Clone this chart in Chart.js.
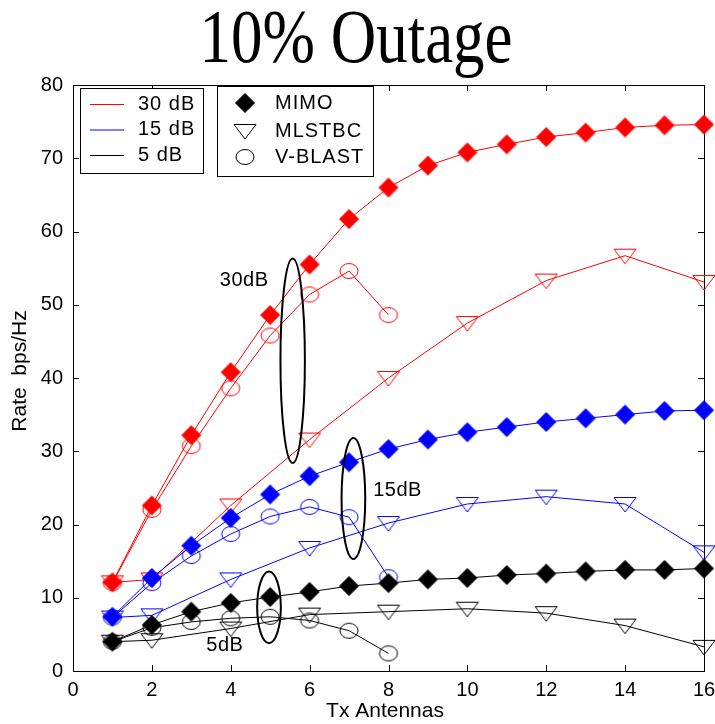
<!DOCTYPE html>
<html>
<head>
<meta charset="utf-8">
<script src="https://cdn.jsdelivr.net/npm/chart.js@4/dist/chart.umd.min.js"></script>
<style>
  html, body { margin: 0; padding: 0; background: #fff; }
  #wrap { width: 715px; height: 724px; }
</style>
</head>
<body>
<div id="wrap"><canvas id="chart" width="715" height="724"></canvas></div>
<script>
// Antenna counts used by each scheme
const mimoX = [1, 2, 3, 4, 5, 6, 7, 8, 9, 10, 11, 12, 13, 14, 15, 16];
const stbcX = [1, 2, 4, 6, 8, 10, 12, 14, 16];
const vblastX = [1, 2, 3, 4, 5, 6, 7, 8];

// 30 dB
const mimo30 = [12.1, 22.6, 32.2, 40.8, 48.6, 55.5, 61.7, 66, 69, 70.8, 71.9, 72.9, 73.5, 74.2, 74.5, 74.6];
const stbc30 = [12.1, 12.5, 22.6, 31.6, 40, 47.5, 53.3, 56.7, 53.1];
const vblast30 = [12, 22, 30.7, 38.6, 45.8, 51.4, 54.6, 48.6];
// 15 dB
const mimo15 = [7.4, 12.7, 17.1, 20.9, 24.1, 26.6, 28.5, 30.3, 31.6, 32.6, 33.3, 34, 34.5, 35, 35.5, 35.6];
const stbc15 = [7.3, 7.6, 12.5, 16.8, 20.2, 22.8, 23.8, 22.8, 16.2];
const vblast15 = [7.3, 12, 15.7, 18.7, 21.1, 22.4, 21, 12.8];
// 5 dB
const mimo5 = [4, 6.3, 8.1, 9.3, 10.1, 10.8, 11.6, 12, 12.5, 12.7, 13.1, 13.3, 13.6, 13.8, 13.8, 14];
const stbc5 = [4, 4.2, 5.8, 7.7, 8.1, 8.5, 7.9, 6.2, 3.3];
const vblast5 = [4, 5.9, 6.7, 7.2, 7.4, 6.9, 5.5, 2.4];

const xTicks = [0, 2, 4, 6, 8, 10, 12, 14, 16];
const yTicks = [0, 10, 20, 30, 40, 50, 60, 70, 80];

// ellipse annotations grouping the schemes at each SNR
const ringLabels = ['30dB', '15dB', '5dB'];
const ringX = [5.57, 7.11, 4.97];
const ringY = [42.35, 23.55, 8.7];
const ringRx = [0.31, 0.3, 0.3];
const ringRy = [13.95, 8.25, 4.9];
const ringTextX = [4.34, 8.23, 3.85];
const ringTextY = [53.3, 24.7, 3.5];

const snrNames = ['30 dB', '15 dB', '5 dB'];
const schemeNames = ['MIMO', 'MLSTBC', 'V-BLAST'];
const colors = ['#ff0000', '#0000ff', '#000000'];

const FONT = 'Arial, "Liberation Sans", sans-serif';

// marker images (the original's markers are a bit wider than tall)
function drawMarker(ctx, kind, color, cx, cy) {
    ctx.save();
    ctx.strokeStyle = color;
    ctx.fillStyle = color;
    ctx.lineWidth = 1;
    ctx.beginPath();
    if (kind === 'diamond') {
        ctx.moveTo(cx, cy - 9.5);
        ctx.lineTo(cx + 9.5, cy);
        ctx.lineTo(cx, cy + 9.5);
        ctx.lineTo(cx - 9.5, cy);
        ctx.closePath();
        ctx.fill();
        ctx.stroke();
    } else if (kind === 'tri') {
        ctx.moveTo(cx - 11, cy - 6.5);
        ctx.lineTo(cx + 11, cy - 6.5);
        ctx.lineTo(cx, cy + 8);
        ctx.closePath();
        ctx.stroke();
    } else {
        ctx.ellipse(cx, cy, 9, 7.5, 0, 0, Math.PI * 2);
        ctx.stroke();
    }
    ctx.restore();
}

function markerImage(kind, color) {
    const c = document.createElement('canvas');
    c.width = 26;
    c.height = 26;
    drawMarker(c.getContext('2d'), kind, color, 13, 13);
    return c;
}

function pts(xs, ys) {
    return xs.map((x, i) => ({ x: x, y: ys[i] }));
}

function series(label, xs, ys, kind, color) {
    return {
        label: label,
        data: pts(xs, ys),
        borderColor: color,
        backgroundColor: color,
        borderWidth: 1,
        tension: 0,
        clip: false,
        pointStyle: markerImage(kind, color),
        pointRadius: 10,
        pointHoverRadius: 10
    };
}

const datasets = [
    series('V-BLAST 5 dB', vblastX, vblast5, 'circle', colors[2]),
    series('MLSTBC 5 dB', stbcX, stbc5, 'tri', colors[2]),
    series('MIMO 5 dB', mimoX, mimo5, 'diamond', colors[2]),
    series('V-BLAST 15 dB', vblastX, vblast15, 'circle', colors[1]),
    series('MLSTBC 15 dB', stbcX, stbc15, 'tri', colors[1]),
    series('MIMO 15 dB', mimoX, mimo15, 'diamond', colors[1]),
    series('V-BLAST 30 dB', vblastX, vblast30, 'circle', colors[0]),
    series('MLSTBC 30 dB', stbcX, stbc30, 'tri', colors[0]),
    series('MIMO 30 dB', mimoX, mimo30, 'diamond', colors[0])
];

// frame, inward ticks, title, axis titles, ellipses and the two legend boxes
const decorations = {
    id: 'decorations',
    beforeDatasetsDraw(chart) {
        const ctx = chart.ctx;
        const a = chart.chartArea;
        const xs = chart.scales.x;
        const ys = chart.scales.y;

        ctx.save();
        ctx.strokeStyle = '#000';
        ctx.lineWidth = 1;
        ctx.strokeRect(Math.round(a.left) + 0.5, Math.round(a.top) + 0.5,
            Math.round(a.right - a.left), Math.round(a.bottom - a.top));

        ctx.beginPath();
        xTicks.forEach(v => {
            const px = Math.round(xs.getPixelForValue(v)) + 0.5;
            ctx.moveTo(px, a.bottom); ctx.lineTo(px, a.bottom - 6);
            ctx.moveTo(px, a.top); ctx.lineTo(px, a.top + 6);
        });
        yTicks.forEach(v => {
            const py = Math.round(ys.getPixelForValue(v)) + 0.5;
            ctx.moveTo(a.left, py); ctx.lineTo(a.left + 6, py);
            ctx.moveTo(a.right, py); ctx.lineTo(a.right - 6, py);
        });
        ctx.stroke();
        ctx.restore();
    },
    afterDatasetsDraw(chart) {
        const ctx = chart.ctx;
        const a = chart.chartArea;
        const xs = chart.scales.x;
        const ys = chart.scales.y;

        ctx.save();
        ctx.strokeStyle = '#000';

        // ellipses
        ctx.lineWidth = 2;
        ringX.forEach((cx, i) => {
            const px = xs.getPixelForValue(cx);
            const py = ys.getPixelForValue(ringY[i]);
            const rx = xs.getPixelForValue(cx + ringRx[i]) - px;
            const ry = py - ys.getPixelForValue(ringY[i] + ringRy[i]);
            ctx.beginPath();
            ctx.ellipse(px, py, rx, ry, 0, 0, Math.PI * 2);
            ctx.stroke();
        });

        ctx.fillStyle = '#000';
        ctx.font = '20px ' + FONT;
        ctx.textAlign = 'center';
        ctx.textBaseline = 'middle';
        ctx.letterSpacing = '0.5px';
        ringLabels.forEach((t, i) => {
            ctx.fillText(t, xs.getPixelForValue(ringTextX[i]), ys.getPixelForValue(ringTextY[i]));
        });
        ctx.letterSpacing = '0px';

        // title
        ctx.save();
        ctx.font = '63px "Liberation Serif", "Times New Roman", serif';
        ctx.textAlign = 'center';
        ctx.textBaseline = 'alphabetic';
        ctx.translate(356, 62);
        ctx.scale(1, 1.22);
        ctx.fillText('10% Outage', 0, 0);
        ctx.restore();

        // axis titles
        ctx.font = '21px ' + FONT;
        ctx.textAlign = 'center';
        ctx.textBaseline = 'middle';
        ctx.fillText('Tx Antennas', 385, 711);
        ctx.save();
        ctx.translate(20, 371);
        ctx.rotate(-Math.PI / 2);
        ctx.fillText('Rate  bps/Hz', 0, 0);
        ctx.restore();

        // legend 1: SNR colours
        ctx.lineWidth = 1;
        ctx.fillStyle = '#fff';
        ctx.fillRect(80.5, 88.5, 123, 85);
        ctx.strokeStyle = '#000';
        ctx.strokeRect(80.5, 88.5, 123, 85);
        ctx.font = '20px ' + FONT;
        ctx.textAlign = 'left';
        ctx.letterSpacing = '1px';
        const rowY1 = [104, 129.5, 155];
        snrNames.forEach((t, i) => {
            ctx.strokeStyle = colors[i];
            ctx.beginPath();
            ctx.moveTo(90, rowY1[i] + 0.5);
            ctx.lineTo(124, rowY1[i] + 0.5);
            ctx.stroke();
            ctx.fillStyle = '#000';
            ctx.fillText(t, 138, rowY1[i]);
        });

        // legend 2: scheme markers
        ctx.fillStyle = '#fff';
        ctx.fillRect(217.5, 86.5, 156, 90);
        ctx.strokeStyle = '#000';
        ctx.strokeRect(217.5, 86.5, 156, 90);
        const kinds = ['diamond', 'tri', 'circle'];
        const rowY2 = [103, 131, 157];
        schemeNames.forEach((t, i) => {
            drawMarker(ctx, kinds[i], '#000', 245, rowY2[i]);
            ctx.fillStyle = '#000';
            ctx.fillText(t, 275, rowY2[i]);
        });
        ctx.restore();
    }
};

new Chart(document.getElementById('chart'), {
    type: 'line',
    data: { datasets: datasets },
    options: {
        responsive: false,
        animation: false,
        layout: { padding: { left: 0, top: 85, right: 10, bottom: 0 } },
        plugins: {
            legend: { display: false },
            title: { display: false },
            tooltip: { enabled: false }
        },
        scales: {
            x: {
                type: 'linear',
                min: 0,
                max: 16,
                afterFit: s => { s.height = 53; s.paddingLeft = 0; s.paddingRight = 0; },
                afterBuildTicks: s => { s.ticks = xTicks.map(v => ({ value: v })); },
                grid: { display: false, drawTicks: false },
                border: { display: false },
                ticks: { color: '#000', padding: 7, font: { size: 20, family: FONT } }
            },
            y: {
                type: 'linear',
                min: 0,
                max: 80,
                afterFit: s => { s.width = 73; s.paddingTop = 0; s.paddingBottom = 0; },
                afterBuildTicks: s => { s.ticks = yTicks.map(v => ({ value: v })); },
                grid: { display: false, drawTicks: false },
                border: { display: false },
                ticks: { color: '#000', padding: 10, font: { size: 20, family: FONT } }
            }
        }
    },
    plugins: [decorations]
});
</script>
</body>
</html>
